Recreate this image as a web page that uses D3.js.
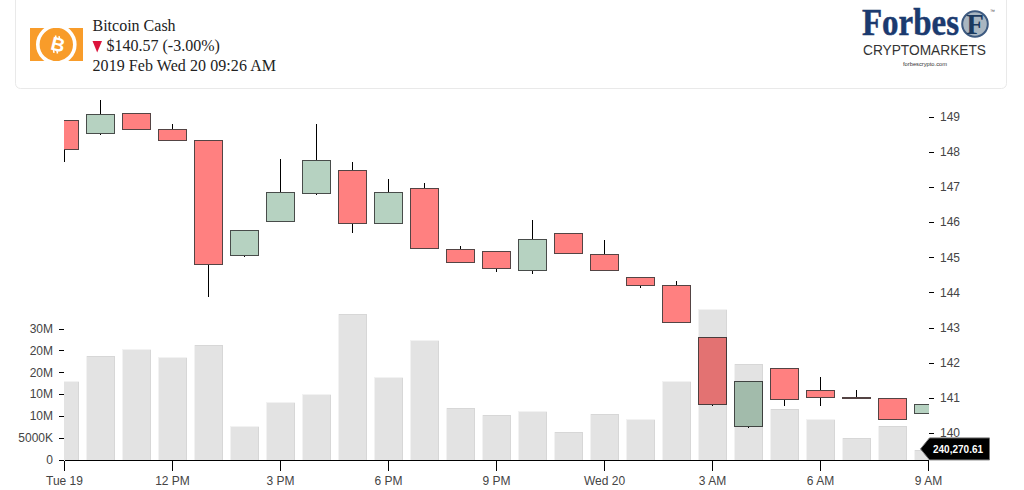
<!DOCTYPE html>
<html>
<head>
<meta charset="utf-8">
<script src="https://d3js.org/d3.v7.min.js"></script>
<style>
  html, body { margin: 0; background: #fff; overflow: hidden; }
  svg { display: block; }
  .axis text { font: 12px "Liberation Sans", Arial, sans-serif; fill: #444; }
  .axis line, .axis path { shape-rendering: crispEdges; }
  .head { font: 16px "Liberation Serif", "Times New Roman", serif; fill: #222; }
</style>
</head>
<body>
<svg id="chart" width="1024" height="490" viewBox="0 0 1024 490"></svg>
<script>
// hourly candles, Tue 19 09:00 -> Wed 20 09:00
const openPrices  = [148.91,148.54,149.10,148.65,148.34,145.07,146.03,146.83,147.48,145.98,146.97,145.24,145.18,144.64,145.69,145.10,144.44,144.21,142.74,140.20,141.84,141.23,141.03,141.00,140.57]
const closePrices = [148.08,149.08,148.65,148.34,144.81,145.78,146.86,147.77,145.98,146.86,145.25,144.87,144.70,145.52,145.12,144.64,144.20,143.16,140.83,141.48,140.97,141.03,140.99,140.40,140.83]
const highPrices  = [148.91,149.47,149.10,148.79,148.34,145.78,147.80,148.79,147.71,147.23,147.11,145.32,145.18,146.06,145.69,145.49,144.44,144.33,142.74,141.48,141.84,141.62,141.23,141.00,140.83]
const lowPrices   = [147.71,148.50,148.65,148.34,143.88,145.01,146.03,146.79,145.69,145.98,145.25,144.87,144.58,144.53,145.12,144.64,144.13,143.16,140.79,140.15,140.77,140.77,140.99,140.40,140.57]
const volumes     = [17.9,23.8,25.2,23.4,26.3,7.6,13.1,14.9,33.4,18.8,27.3,11.9,10.3,11.0,6.4,10.5,9.2,17.9,34.4,21.9,11.6,9.2,5.0,7.7,2.2]

const priceTicks = [140,141,142,143,144,145,146,147,148,149]
const volumeTicks = [0,5,10,15,20,25,30]
const volumeTickLabels = ["0","5000K","10M","10M","20M","20M","30M"]
const timeTickHours = [0,3,6,9,12,15,18,21,24]
const timeTickLabels = ["Tue 19","12 PM","3 PM","6 PM","9 PM","Wed 20","3 AM","6 AM","9 AM"]

const lastVolumeLabel = "240,270.61"
const coinName = "Bitcoin Cash"
const priceLine = "$140.57 (-3.00%)"
const dateLine = "2019 Feb Wed 20 09:26 AM"

const start = new Date(2019, 1, 19, 9)
const hourAt = i => d3.timeHour.offset(start, i)

const svg = d3.select("#chart")

// header card
svg.append("rect")
    .attr("x", 15.5).attr("y", -12).attr("width", 991).attr("height", 100.5).attr("rx", 5)
    .attr("fill", "#fff").attr("stroke", "#e9e9e9")

// coin logo
const coin = svg.append("g")
svg.append("clipPath").attr("id", "coinClip").append("rect")
    .attr("x", 30).attr("y", 28).attr("width", 53).attr("height", 33)
coin.append("rect").attr("x", 30).attr("y", 28).attr("width", 53).attr("height", 33).attr("fill", "#f89c2a")
coin.append("circle").attr("cx", 56.3).attr("cy", 44.5).attr("r", 18.5)
    .attr("fill", "#f89c2a").attr("stroke", "#fff").attr("stroke-width", 3.6)
    .attr("clip-path", "url(#coinClip)")
coin.append("text").attr("transform", "translate(56.5,51) rotate(14)")
    .attr("text-anchor", "middle")
    .style("font", "bold 19px 'Liberation Sans', Arial, sans-serif")
    .attr("fill", "#fff").text("B")
// the little bars above and below the B
coin.selectAll("line.bit")
    .data([[55.5,35.5,56,38],[59,36.2,59.5,38.8],[53.5,50,54,52.8],[57,50.8,57.5,53.5]])
    .enter()
    .append("line")
    .attr("class", "bit")
    .attr("x1", d => d[0]).attr("y1", d => d[1])
    .attr("x2", d => d[2]).attr("y2", d => d[3])
    .attr("stroke", "#fff").attr("stroke-width", 1.5)

// coin text
svg.append("text").attr("class", "head").attr("x", 92.5).attr("y", 31).text(coinName)
svg.append("path").attr("d", "M92.5,41 L102,41 L97.2,52.5 Z").attr("fill", "#dc143c")
svg.append("text").attr("class", "head").attr("x", 106.5).attr("y", 51).text(priceLine)
svg.append("text").attr("class", "head").attr("x", 92.5).attr("y", 71)
    .attr("textLength", 183.5).text(dateLine)

// forbes logo
svg.append("text").attr("transform", "translate(862,34.5) scale(0.867,1)")
    .style("font", "bold 38px 'Liberation Serif', serif")
    .attr("fill", "#1b3a6f").attr("stroke", "#1b3a6f").attr("stroke-width", 0.5).text("Forbes")
svg.append("circle").attr("cx", 975).attr("cy", 24).attr("r", 12.8)
    .attr("fill", "#a9b6c1").attr("stroke", "#3d5a80").attr("stroke-width", 2)
svg.append("text").attr("x", 975).attr("y", 34).attr("text-anchor", "middle")
    .style("font", "bold 29px 'Liberation Serif', serif").attr("fill", "#1b3a5f").text("F")
svg.append("text").attr("x", 990).attr("y", 13)
    .style("font", "5px 'Liberation Sans', sans-serif").attr("fill", "#444").text("™")
svg.append("text").attr("x", 863).attr("y", 54.5)
    .attr("textLength", 123).attr("lengthAdjust", "spacingAndGlyphs")
    .style("font", "14px 'Liberation Sans', sans-serif").attr("fill", "#333").text("CRYPTOMARKETS")
svg.append("text").attr("x", 903).attr("y", 66)
    .attr("textLength", 44).attr("lengthAdjust", "spacingAndGlyphs")
    .style("font", "6px 'Liberation Sans', sans-serif").attr("fill", "#333").text("forbescrypto.com")

// scales
const x = d3.scaleTime().domain([hourAt(0), hourAt(24)]).range([64.5, 928.5])
const yPrice = d3.scaleLinear().domain([140, 149]).range([433.5, 117])
const yVolume = d3.scaleLinear().domain([0, 30]).range([460, 329])
const bodyWidth = 28

svg.append("clipPath").attr("id", "plotClip").append("rect")
    .attr("x", 64).attr("y", 90).attr("width", 865).attr("height", 380)

const plot = svg.append("g").attr("clip-path", "url(#plotClip)")
const index = d3.range(openPrices.length)

// candles sit below the volume bars
const candles = plot.append("g").selectAll("g")
    .data(index)
    .enter()
    .append("g")

candles.append("line")
    .attr("x1", i => x(hourAt(i))).attr("x2", i => x(hourAt(i)))
    .attr("y1", i => yPrice(highPrices[i]))
    .attr("y2", i => yPrice(Math.max(openPrices[i], closePrices[i])))
    .attr("stroke", "#000").attr("shape-rendering", "crispEdges")
candles.append("line")
    .attr("x1", i => x(hourAt(i))).attr("x2", i => x(hourAt(i)))
    .attr("y1", i => yPrice(Math.min(openPrices[i], closePrices[i])))
    .attr("y2", i => yPrice(lowPrices[i]))
    .attr("stroke", "#000").attr("shape-rendering", "crispEdges")
candles.append("rect")
    .attr("x", i => x(hourAt(i)) - bodyWidth / 2)
    .attr("width", bodyWidth)
    .attr("y", i => yPrice(Math.max(openPrices[i], closePrices[i])))
    .attr("height", i => Math.abs(yPrice(openPrices[i]) - yPrice(closePrices[i])))
    .attr("fill", i => closePrices[i] > openPrices[i] ? "#b6d2c1" : "#ff8080")
    .attr("stroke", i => closePrices[i] > openPrices[i] ? "#484c4a" : "#544444")
    .attr("shape-rendering", "crispEdges")

// volume bars
plot.append("g").selectAll("rect")
    .data(index)
    .enter()
    .append("rect")
    .attr("x", i => x(hourAt(i)) - bodyWidth / 2)
    .attr("width", bodyWidth)
    .attr("y", i => yVolume(volumes[i]))
    .attr("height", i => yVolume(0) - yVolume(volumes[i]))
    .attr("fill", "#000").attr("fill-opacity", 0.11)
    .attr("stroke", "#000").attr("stroke-opacity", 0.05)
    .attr("shape-rendering", "crispEdges")

// axes
const xAxis = d3.axisBottom(x)
    .tickValues(timeTickHours.map(hourAt))
    .tickFormat((d, i) => timeTickLabels[i])
    .tickSize(10).tickSizeOuter(0).tickPadding(6).offset(0)
svg.append("g").attr("class", "axis")
    .attr("transform", "translate(0,460.5)")
    .call(xAxis)

const priceAxis = d3.axisRight(yPrice)
    .tickValues(priceTicks).tickFormat(d3.format("d"))
    .tickSize(5).tickPadding(6).offset(0)
svg.append("g").attr("class", "axis")
    .attr("transform", "translate(929,0)")
    .call(priceAxis)
    .call(g => g.select(".domain").remove())

const volumeAxis = d3.axisLeft(yVolume)
    .tickValues(volumeTicks).tickFormat((d, i) => volumeTickLabels[i])
    .tickSize(5).tickPadding(6).offset(0)
svg.append("g").attr("class", "axis")
    .attr("transform", "translate(64,0)")
    .call(volumeAxis)
    .call(g => g.select(".domain").remove())

// last volume tag
const tagY = yVolume(volumes[volumes.length - 1]) - 1.5
const tag = svg.append("g").attr("transform", `translate(929.5,${tagY})`)
tag.append("path")
    .attr("d", "M-9,0 L0,-11 L60,-11 L60,11 L0,11 Z")
    .attr("fill", "#000").attr("stroke", "#777")
tag.append("text").attr("x", 3.5).attr("y", 3.8)
    .style("font", "bold 10px 'Liberation Sans', Arial, sans-serif")
    .attr("fill", "#fff").text(lastVolumeLabel)
</script>
</body>
</html>
